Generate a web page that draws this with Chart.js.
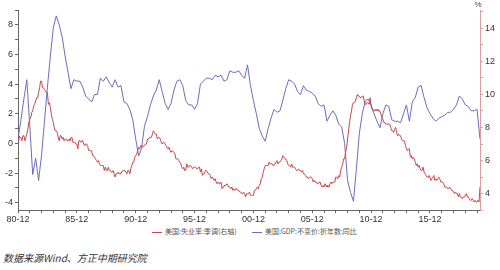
<!DOCTYPE html>
<html>
<head>
<meta charset="utf-8">
<script src="https://cdn.jsdelivr.net/npm/chart.js@4"></script>
<style>
  body { margin: 0; background: #fff; }
  #wrap { position: relative; width: 500px; height: 270px; }
  #myChart { position: absolute; left: 0; top: 0; }
  .leg { position: absolute; top: 226px; font: 7px "Noto Sans CJK SC", sans-serif; color: #555; white-space: nowrap; line-height: 10px; }
  .leg i { display: inline-block; width: 10px; height: 1px; vertical-align: middle; margin-right: 3px; }
  #src { position: absolute; left: 3px; top: 250px; font: italic 10px "Noto Sans CJK SC", sans-serif; color: #333; }
</style>
</head>
<body>
<div id="wrap">
  <canvas id="myChart" width="500" height="226"></canvas>
  <div class="leg" id="leg0" style="left:152px"></div>
  <div class="leg" id="leg1" style="left:252px"></div>
  <div id="src">数据来源Wind、方正中期研究院</div>
</div>
<script>
// monthly, Dec 1980 .. Mar 2020
const unemployment = [
  7.2,
  7.5, 7.4, 7.4, 7.2, 7.5, 7.5, 7.2, 7.4, 7.6, 7.9, 8.3, 8.5,
  8.6, 8.9, 9.0, 9.3, 9.4, 9.6, 9.8, 9.8, 10.1, 10.4, 10.8, 10.8,
  10.4, 10.4, 10.3, 10.2, 10.1, 10.1, 9.4, 9.5, 9.2, 8.8, 8.5, 8.3,
  8.0, 7.8, 7.8, 7.7, 7.4, 7.2, 7.5, 7.5, 7.3, 7.4, 7.2, 7.3,
  7.3, 7.2, 7.2, 7.3, 7.2, 7.4, 7.4, 7.1, 7.1, 7.1, 7.0, 7.0,
  6.7, 7.2, 7.2, 7.1, 7.2, 7.2, 7.0, 6.9, 7.0, 7.0, 6.9, 6.6,
  6.6, 6.6, 6.6, 6.3, 6.3, 6.2, 6.1, 6.0, 5.9, 6.0, 5.8, 5.7,
  5.7, 5.7, 5.7, 5.4, 5.6, 5.4, 5.4, 5.6, 5.4, 5.4, 5.3, 5.3,
  5.4, 5.2, 5.0, 5.2, 5.2, 5.3, 5.2, 5.2, 5.3, 5.3, 5.4, 5.4,
  5.4, 5.3, 5.2, 5.4, 5.4, 5.2, 5.5, 5.7, 5.9, 5.9, 6.2, 6.3,
  6.4, 6.6, 6.8, 6.7, 6.9, 6.9, 6.8, 6.9, 6.9, 7.0, 7.0, 7.3,
  7.3, 7.4, 7.4, 7.4, 7.6, 7.8, 7.7, 7.6, 7.6, 7.3, 7.4, 7.4,
  7.3, 7.1, 7.0, 7.1, 7.1, 7.0, 6.9, 6.8, 6.7, 6.8, 6.6, 6.5,
  6.6, 6.6, 6.5, 6.4, 6.1, 6.1, 6.1, 6.0, 5.9, 5.8, 5.6, 5.5,
  5.6, 5.4, 5.4, 5.8, 5.6, 5.6, 5.7, 5.7, 5.6, 5.5, 5.6, 5.6,
  5.6, 5.5, 5.5, 5.6, 5.6, 5.3, 5.5, 5.1, 5.2, 5.2, 5.4, 5.4,
  5.3, 5.2, 5.2, 5.1, 4.9, 5.0, 4.9, 4.8, 4.9, 4.7, 4.6, 4.7,
  4.6, 4.6, 4.7, 4.3, 4.4, 4.5, 4.5, 4.5, 4.6, 4.5, 4.4, 4.4,
  4.3, 4.4, 4.2, 4.3, 4.2, 4.3, 4.3, 4.2, 4.2, 4.1, 4.1, 4.0,
  4.0, 4.1, 4.0, 3.8, 4.0, 4.0, 4.0, 4.1, 3.9, 3.9, 3.9, 3.9,
  4.2, 4.2, 4.3, 4.4, 4.3, 4.5, 4.6, 4.9, 5.0, 5.3, 5.5, 5.7,
  5.7, 5.7, 5.7, 5.9, 5.8, 5.8, 5.8, 5.7, 5.7, 5.7, 5.9, 6.0,
  5.8, 5.9, 5.9, 6.0, 6.1, 6.3, 6.2, 6.1, 6.1, 6.0, 5.8, 5.7,
  5.7, 5.6, 5.8, 5.6, 5.6, 5.6, 5.5, 5.4, 5.4, 5.5, 5.4, 5.4,
  5.3, 5.4, 5.2, 5.2, 5.1, 5.0, 5.0, 4.9, 5.0, 5.0, 5.0, 4.9,
  4.7, 4.8, 4.7, 4.7, 4.6, 4.6, 4.7, 4.7, 4.5, 4.4, 4.5, 4.4,
  4.6, 4.5, 4.4, 4.5, 4.4, 4.6, 4.7, 4.6, 4.7, 4.7, 4.7, 5.0,
  5.0, 4.9, 5.1, 5.0, 5.4, 5.6, 5.8, 6.1, 6.1, 6.5, 6.8, 7.3,
  7.8, 8.3, 8.7, 9.0, 9.4, 9.5, 9.5, 9.6, 9.8, 10.0, 9.9, 9.9,
  9.8, 9.8, 9.9, 9.9, 9.6, 9.4, 9.4, 9.5, 9.5, 9.4, 9.8, 9.3,
  9.1, 9.0, 9.0, 9.1, 9.0, 9.1, 9.0, 9.0, 9.0, 8.8, 8.6, 8.5,
  8.3, 8.3, 8.2, 8.2, 8.2, 8.2, 8.2, 8.0, 7.8, 7.8, 7.7, 7.9,
  8.0, 7.7, 7.5, 7.6, 7.5, 7.5, 7.3, 7.2, 7.2, 7.2, 6.9, 6.7,
  6.6, 6.7, 6.7, 6.2, 6.3, 6.1, 6.2, 6.1, 5.9, 5.7, 5.8, 5.6,
  5.7, 5.5, 5.4, 5.4, 5.6, 5.3, 5.2, 5.1, 5.0, 5.0, 5.1, 5.0,
  4.8, 4.9, 5.0, 5.1, 4.8, 4.9, 4.8, 4.9, 5.0, 4.9, 4.7, 4.7,
  4.7, 4.6, 4.4, 4.4, 4.4, 4.3, 4.3, 4.4, 4.3, 4.2, 4.2, 4.1,
  4.0, 4.1, 4.0, 4.0, 3.8, 4.0, 3.8, 3.8, 3.7, 3.8, 3.8, 3.9,
  4.0, 3.8, 3.8, 3.7, 3.6, 3.6, 3.7, 3.6, 3.5, 3.6, 3.5, 3.5,
  3.6, 3.5, 4.4
];

// quarterly, 1980Q4 .. 2020Q1
const gdpYoy = [
  0.3, 1.6, 3.0, 4.3, 1.2, -2.1, -1.0, -2.5, -0.8, 1.5,
  3.8, 5.9, 7.8, 8.6, 8.0, 7.2, 5.9, 4.8, 3.7, 4.3,
  4.2, 4.2, 3.8, 3.2, 3.0, 2.8, 3.3, 3.3, 4.4, 4.2,
  4.5, 4.1, 3.8, 4.3, 3.8, 3.9, 2.8, 2.7, 2.3, 1.6,
  0.3, -0.85, -0.3, 1.2, 1.8, 2.6, 3.2, 3.6, 4.3, 3.5,
  2.7, 2.3, 2.7, 3.6, 4.2, 4.3, 3.9, 2.9, 2.6, 2.6,
  2.3, 2.7, 4.0, 4.2, 4.4, 4.4, 4.3, 4.6, 4.5, 4.6,
  4.2, 4.3, 4.9, 4.8, 4.8, 4.9, 4.6, 4.4, 5.3, 3.9,
  2.9, 2.0, 1.0, 0.5, 0.15, 1.0, 1.7, 2.3, 2.1, 2.2,
  2.9, 3.7, 4.3, 4.2, 4.0, 3.5, 3.3, 3.9, 3.6, 3.5,
  3.4, 3.2, 2.7, 2.5, 2.6, 1.5, 1.9, 2.2, 1.9, 1.3,
  1.1, 0.0, -2.5, -3.3, -3.9, -1.7, 0.7, 2.0, 2.85, 3.0,
  2.6, 2.0, 1.5, 1.05, 2.0, 2.6, 2.5, 1.6, 1.5, 1.5,
  1.4, 2.0, 2.6, 1.5, 2.8, 3.1, 3.8, 3.9, 3.1, 2.4,
  2.0, 1.7, 1.5, 1.7, 1.8, 1.9, 2.1, 2.1, 2.3, 2.6,
  3.2, 3.0, 2.6, 2.5, 2.2, 2.2, 2.3, 0.3
];

const tickLabels = ['80-12', '85-12', '90-12', '95-12', '00-12', '05-12', '10-12', '15-12'];
const seriesNames = ['美国:失业率:季调(右轴)', '美国:GDP:不变价:折年数:同比'];

const redColor = 'rgb(200,72,72)';
const blueColor = 'rgb(108,108,190)';
const tickFont = { family: '"Liberation Sans", Arial, sans-serif', size: 9 };

// html legend
[redColor, blueColor].forEach((c, i) => {
  const el = document.getElementById('leg' + i);
  const sw = document.createElement('i');
  sw.style.background = c;
  el.appendChild(sw);
  el.appendChild(document.createTextNode(seriesNames[i]));
});

const pctLabel = {
  id: 'pctLabel',
  afterDraw(chart) {
    const s = chart.scales.y2;
    const c = chart.ctx;
    c.save();
    c.font = '8px "Liberation Sans", Arial, sans-serif';
    c.fillStyle = '#444';
    c.textAlign = 'center';
    c.fillText('%', s.left - 2, chart.chartArea.top - 3);
    c.restore();
  }
};

const intTicks = (lo, hi) => {
  const t = [];
  for (let v = lo; v <= hi; v++) t.push({ value: v });
  return t;
};

new Chart(document.getElementById('myChart'), {
  type: 'line',
  data: {
    datasets: [{
      label: seriesNames[0],
      data: unemployment.map((v, i) => ({ x: i, y: v })),
      borderColor: redColor,
      borderWidth: 1,
      pointRadius: 0,
      yAxisID: 'y2',
    }, {
      label: seriesNames[1],
      data: gdpYoy.map((v, i) => ({ x: i * 3, y: v })),
      borderColor: blueColor,
      borderWidth: 1,
      pointRadius: 0,
      yAxisID: 'y',
    }]
  },
  options: {
    responsive: false,
    animation: false,
    layout: { padding: { top: 10, left: 0, right: 0, bottom: 0 } },
    plugins: {
      tooltip: { enabled: false },
      legend: { display: false }
    },
    scales: {
      x: {
        type: 'linear',
        min: 0,
        max: 471,
        afterBuildTicks: s => { s.ticks = intTicks(0, 39).map(t => ({ value: t.value * 12 })); },
        ticks: {
          autoSkip: false,
          maxRotation: 0,
          padding: 1,
          color: '#333',
          font: tickFont,
          callback: v => (v % 60 === 0 ? tickLabels[v / 60] : '')
        },
        grid: { drawOnChartArea: false, tickLength: 3, color: '#666' },
        border: { color: '#666' }
      },
      y: {
        position: 'left',
        min: -4.5,
        max: 9,
        afterBuildTicks: s => { s.ticks = intTicks(-4, 9); },
        afterFit: s => { s.width = 18; },
        ticks: {
          padding: 2,
          color: '#333',
          font: tickFont,
          callback: v => (v % 2 === 0 ? v : '')
        },
        grid: { drawOnChartArea: false, tickLength: 3, color: '#666' },
        border: { color: '#666' }
      },
      y2: {
        position: 'right',
        min: 3,
        max: 15.1,
        afterBuildTicks: s => { s.ticks = intTicks(3, 15); },
        afterFit: s => { s.width = 20; },
        ticks: {
          padding: 2,
          color: '#333',
          font: tickFont,
          callback: v => (v % 2 === 0 && v >= 4 ? v : '')
        },
        grid: { drawOnChartArea: false, tickLength: 3, color: '#d9a0a0' },
        border: { color: '#d9a0a0' }
      }
    }
  },
  plugins: [pctLabel]
});
</script>
</body>
</html>
